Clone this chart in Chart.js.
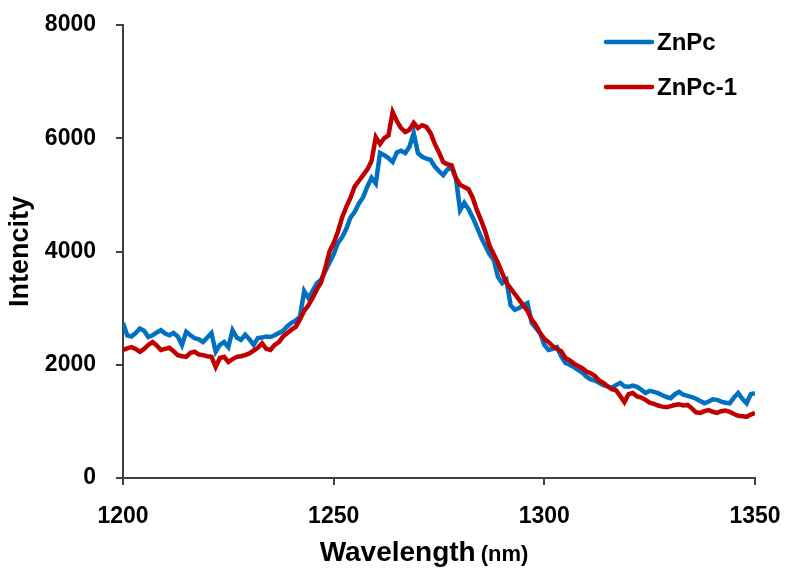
<!DOCTYPE html>
<html><head><meta charset="utf-8">
<script src="https://cdn.jsdelivr.net/npm/chart.js@4/dist/chart.umd.min.js"></script>
<style>html,body{margin:0;padding:0;background:#fff}#wrap{width:791px;height:572px}</style>
</head><body><div id="wrap"><canvas id="c" width="791" height="572"></canvas></div>
<script>
const wavelengths=[1200,1201,1202,1203,1204,1205,1206,1207,1208,1209,1210,1211,1212,1213,1214,1215,1216,1217,1218,1219,1220,1221,1222,1223,1224,1225,1226,1227,1228,1229,1230,1231,1232,1233,1234,1235,1236,1237,1238,1239,1240,1241,1242,1243,1244,1245,1246,1247,1248,1249,1250,1251,1252,1253,1254,1255,1256,1257,1258,1259,1260,1261,1262,1263,1264,1265,1266,1267,1268,1269,1270,1271,1272,1273,1274,1275,1276,1277,1278,1279,1280,1281,1282,1283,1284,1285,1286,1287,1288,1289,1290,1291,1292,1293,1294,1295,1296,1297,1298,1299,1300,1301,1302,1303,1304,1305,1306,1307,1308,1309,1310,1311,1312,1313,1314,1315,1316,1317,1318,1319,1320,1321,1322,1323,1324,1325,1326,1327,1328,1329,1330,1331,1332,1333,1334,1335,1336,1337,1338,1339,1340,1341,1342,1343,1344,1345,1346,1347,1348,1349,1350];
const znpc=[2740,2520,2500,2560,2640,2600,2490,2520,2570,2610,2550,2520,2560,2500,2350,2580,2520,2470,2450,2400,2480,2560,2230,2350,2400,2310,2610,2480,2440,2530,2450,2350,2470,2480,2500,2490,2520,2560,2600,2680,2740,2780,2850,3300,3180,3300,3440,3500,3650,3800,3950,4150,4250,4400,4600,4700,4850,4960,5150,5300,5200,5740,5700,5650,5580,5750,5780,5740,5850,6090,5740,5670,5640,5620,5500,5420,5350,5450,5480,5300,4730,4860,4750,4600,4430,4250,4100,3950,3850,3550,3440,3500,3050,2970,3000,3050,3090,2740,2650,2560,2350,2260,2280,2310,2150,2030,2000,1960,1910,1860,1790,1740,1720,1680,1640,1620,1590,1640,1680,1620,1610,1630,1610,1560,1500,1540,1520,1500,1460,1430,1410,1480,1520,1470,1450,1430,1400,1360,1320,1350,1390,1380,1350,1330,1320,1420,1500,1400,1320,1480,1500];
const znpc1=[2260,2290,2310,2280,2230,2280,2350,2400,2340,2260,2280,2300,2240,2170,2150,2140,2210,2230,2180,2170,2150,2140,1960,2120,2140,2050,2100,2140,2150,2170,2200,2250,2300,2380,2280,2260,2350,2400,2500,2560,2620,2670,2800,2950,3050,3180,3330,3450,3700,4000,4150,4350,4600,4790,4950,5150,5250,5350,5450,5600,6020,5900,6000,6050,6460,6300,6180,6110,6150,6270,6180,6230,6200,6090,5900,5750,5580,5540,5520,5300,5180,5140,5100,4950,4730,4550,4350,4100,3950,3800,3620,3450,3350,3250,3150,3050,2950,2800,2700,2560,2460,2400,2330,2280,2240,2120,2080,2020,1980,1940,1880,1850,1800,1720,1680,1620,1570,1550,1450,1340,1480,1500,1440,1420,1380,1330,1310,1280,1260,1250,1270,1290,1300,1280,1290,1230,1160,1150,1180,1200,1170,1150,1180,1190,1170,1130,1100,1090,1080,1120,1150];
const seriesNames=['ZnPc','ZnPc-1'];
const xTickValues=[1200,1250,1300,1350];
const yTickValues=[0,2000,4000,6000,8000];
const xTitle='Wavelength';
const xUnit='(nm)';
const yTitle='Intencity';

const FONT='"Liberation Sans", Arial, sans-serif';
const toPts=(vals)=>wavelengths.map((w,i)=>({x:w,y:vals[i]}));

const legendPlugin={id:'customLegend',afterDraw(chart){
  const ctx=chart.ctx;
  chart.data.datasets.forEach((ds,i)=>{
    const y=42+i*45;
    ctx.save();
    ctx.strokeStyle=ds.borderColor;ctx.lineWidth=4.5;ctx.lineCap='round';
    ctx.beginPath();ctx.moveTo(606,y);ctx.lineTo(652,y);ctx.stroke();
    ctx.fillStyle='#000';ctx.font='bold 24px '+FONT;ctx.textBaseline='middle';
    ctx.fillText(ds.label,657,y+1);
    ctx.restore();
  });
}};
const xTitlePlugin={id:'xTitle',afterDraw(chart){
  const ctx=chart.ctx;const ca=chart.chartArea;
  ctx.save();ctx.fillStyle='#000';ctx.textBaseline='alphabetic';
  ctx.font='bold 28px '+FONT;const w1=ctx.measureText(xTitle).width;
  ctx.font='bold 22px '+FONT;const w2=ctx.measureText(xUnit).width;
  const gap=5;const total=w1+gap+w2;
  const x0=(ca.left+ca.right)/2-15-total/2;const yb=561;
  ctx.font='bold 28px '+FONT;ctx.fillText(xTitle,x0,yb);
  ctx.font='bold 22px '+FONT;ctx.fillText(xUnit,x0+w1+gap,yb);
  ctx.restore();
}};

new Chart(document.getElementById('c'),{
  type:'line',
  data:{datasets:[
    {label:seriesNames[0],data:toPts(znpc),borderColor:'#0070C0',borderWidth:4.5,pointRadius:0,tension:0,fill:false,order:1},
    {label:seriesNames[1],data:toPts(znpc1),borderColor:'#C00000',borderWidth:4.5,pointRadius:0,tension:0,fill:false,order:0}
  ]},
  options:{
    responsive:false,animation:false,
    layout:{autoPadding:false,padding:{top:25,right:36,left:0,bottom:0}},
    plugins:{legend:{display:false},tooltip:{enabled:false}},
    scales:{
      x:{type:'linear',min:1200,max:1350,
        afterBuildTicks:(s)=>{s.ticks=xTickValues.map(v=>({value:v}));},
        afterFit:(s)=>{s.height=94;s.paddingLeft=0;s.paddingRight=0;},
        grid:{display:true,drawOnChartArea:false,drawTicks:true,tickLength:7,color:'#404040',lineWidth:2},
        border:{display:true,color:'#404040',width:2},
        ticks:{color:'#000',font:{family:FONT,size:23,weight:'bold'},padding:18,maxRotation:0,callback:(v)=>String(v)}
      },
      y:{type:'linear',min:0,max:8000,
        afterBuildTicks:(s)=>{s.ticks=yTickValues.map(v=>({value:v}));},
        afterFit:(s)=>{s.width=123;s.paddingTop=0;s.paddingBottom=0;},
        grid:{display:true,drawOnChartArea:false,drawTicks:true,tickLength:7,color:'#404040',lineWidth:2},
        border:{display:true,color:'#404040',width:2},
        ticks:{color:'#000',font:{family:FONT,size:23,weight:'bold'},padding:20,callback:(v)=>String(v)},
        title:{display:true,text:yTitle,color:'#000',font:{family:FONT,size:27,weight:'bold'},padding:{top:4,bottom:0}}
      }
    }
  },
  plugins:[legendPlugin,xTitlePlugin]
});
</script></body></html>
